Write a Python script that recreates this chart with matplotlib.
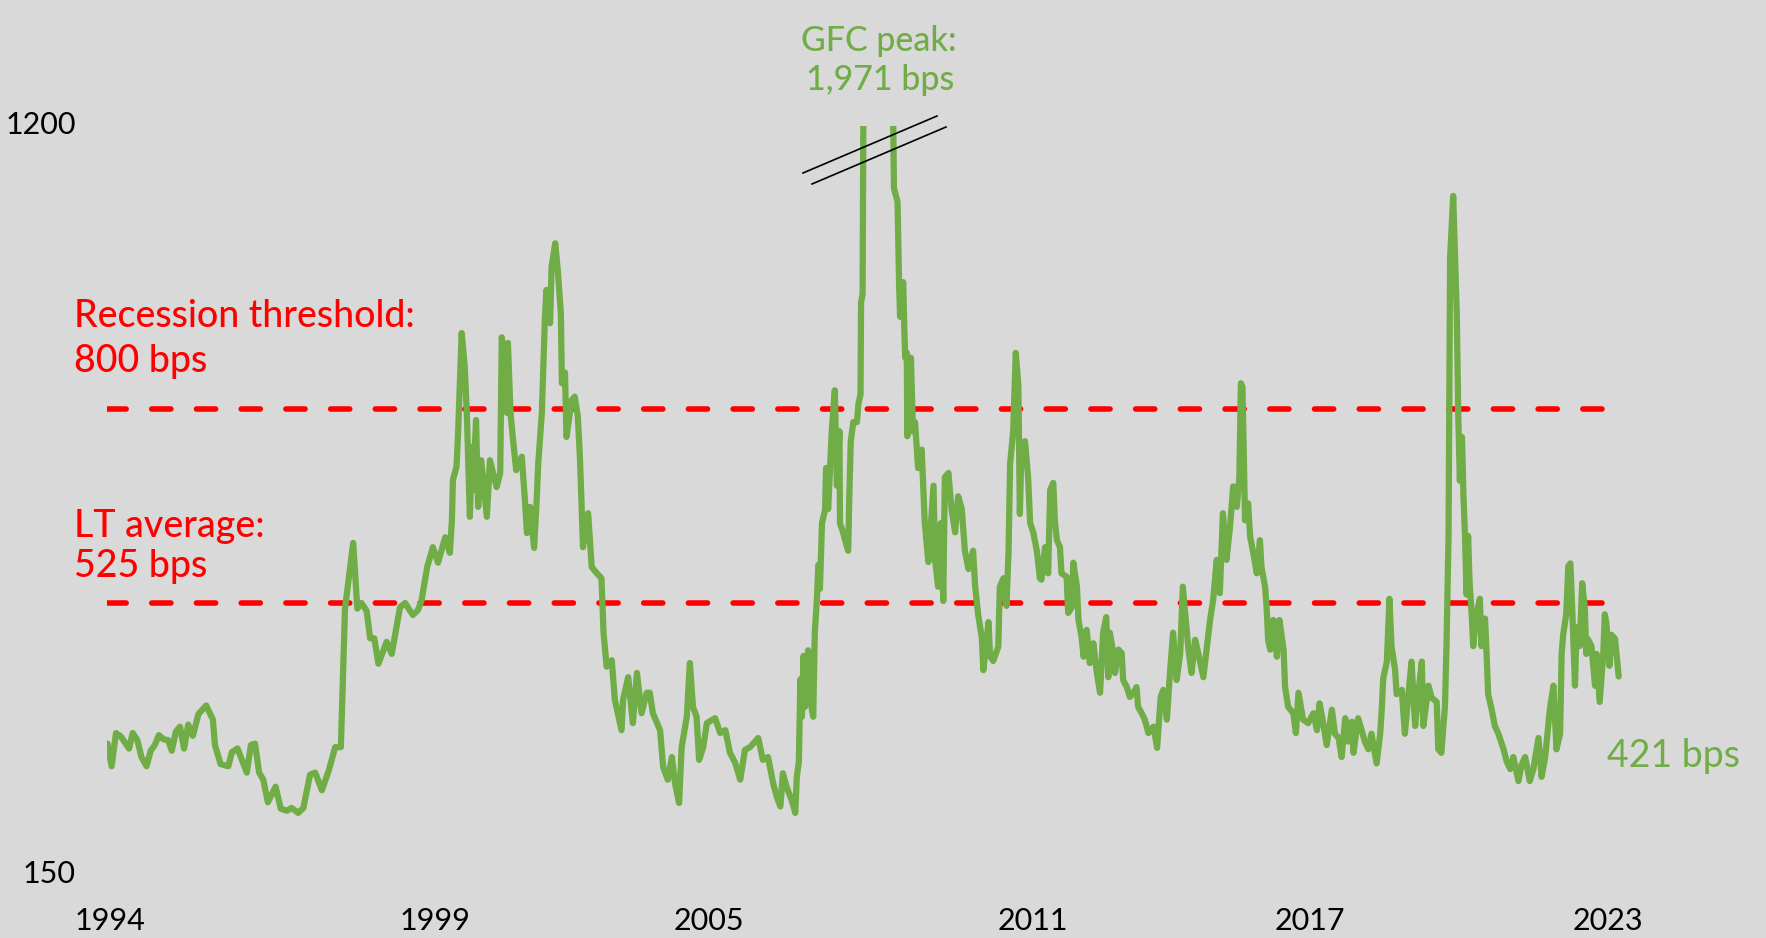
import matplotlib.pyplot as plt
from matplotlib.lines import Line2D

### data ###

# high yield spread (bps), x as fractional years
years = [
    1994.01, 1994.09, 1994.175, 1994.27, 1994.43, 1994.50, 1994.59, 1994.67, 1994.77, 1994.85,
    1994.93, 1995.01, 1995.10, 1995.19, 1995.26, 1995.34, 1995.42, 1995.50, 1995.58, 1995.67,
    1995.78, 1995.93, 1996.06, 1996.10, 1996.21, 1996.36, 1996.43, 1996.54, 1996.72, 1996.80,
    1996.88, 1996.96, 1997.04, 1997.13, 1997.28, 1997.38, 1997.50, 1997.59, 1997.72, 1997.82,
    1997.95, 1998.05, 1998.18, 1998.31, 1998.44, 1998.55, 1998.63, 1998.79, 1998.87, 1998.95,
    1999.05, 1999.12, 1999.20, 1999.28, 1999.44, 1999.54, 1999.70, 1999.80, 1999.95, 2000.05,
    2000.12, 2000.23, 2000.34, 2000.44, 2000.58, 2000.67, 2000.71, 2000.73, 2000.80, 2000.83,
    2000.86, 2000.88, 2000.90, 2000.96, 2001.00, 2001.06, 2001.10, 2001.12, 2001.18, 2001.22,
    2001.28, 2001.39, 2001.45, 2001.58, 2001.65, 2001.68, 2001.74, 2001.78, 2001.80, 2001.85,
    2001.90, 2001.96, 2002.07, 2002.13, 2002.17, 2002.23, 2002.31, 2002.36, 2002.39, 2002.46,
    2002.48, 2002.52, 2002.55, 2002.62, 2002.65, 2002.72, 2002.77, 2002.83, 2002.85, 2002.91,
    2002.94, 2003.04, 2003.10, 2003.16, 2003.20, 2003.23, 2003.26, 2003.36, 2003.43, 2003.53,
    2003.62, 2003.66, 2003.72, 2003.82, 2003.88, 2004.01, 2004.04, 2004.14, 2004.23, 2004.31,
    2004.40, 2004.50, 2004.56, 2004.62, 2004.76, 2004.82, 2004.91, 2004.99, 2005.05, 2005.13,
    2005.18, 2005.28, 2005.34, 2005.40, 2005.47, 2005.52, 2005.60, 2005.67, 2005.83, 2005.93,
    2006.03, 2006.12, 2006.22, 2006.32, 2006.41, 2006.51, 2006.67, 2006.76, 2006.86, 2006.96,
    2007.03, 2007.10, 2007.15, 2007.22, 2007.32, 2007.39, 2007.42, 2007.46, 2007.49, 2007.52,
    2007.55, 2007.58, 2007.64, 2007.68, 2007.74, 2007.77, 2007.81, 2007.84, 2007.87, 2007.91,
    2007.97, 2007.99, 2008.03, 2008.10, 2008.16, 2008.20, 2008.25, 2008.26, 2008.32, 2008.39,
    2008.42, 2008.44, 2008.47, 2008.52, 2008.59, 2008.62, 2008.66, 2008.67, 2008.70, 2008.72,
    2008.78, 2008.87, 2008.96, 2009.04, 2009.13, 2009.22, 2009.29, 2009.31, 2009.38, 2009.41,
    2009.43, 2009.49, 2009.51, 2009.53, 2009.56, 2009.57, 2009.64, 2009.68, 2009.72, 2009.78,
    2009.85, 2009.88, 2009.91, 2009.98, 2010.08, 2010.11, 2010.17, 2010.22, 2010.27, 2010.30,
    2010.37, 2010.43, 2010.50, 2010.56, 2010.63, 2010.69, 2010.76, 2010.85, 2010.89, 2010.95,
    2011.02, 2011.05, 2011.15, 2011.18, 2011.24, 2011.34, 2011.37, 2011.44, 2011.50, 2011.54,
    2011.57, 2011.63, 2011.68, 2011.73, 2011.76, 2011.79, 2011.86, 2011.92, 2011.96, 2012.02,
    2012.09, 2012.15, 2012.18, 2012.25, 2012.31, 2012.35, 2012.41, 2012.44, 2012.48, 2012.54,
    2012.57, 2012.67, 2012.70, 2012.77, 2012.80, 2012.87, 2012.90, 2012.96, 2013.00, 2013.06,
    2013.12, 2013.19, 2013.25, 2013.32, 2013.38, 2013.44, 2013.48, 2013.51, 2013.58, 2013.61,
    2013.68, 2013.74, 2013.77, 2013.84, 2013.90, 2013.97, 2014.03, 2014.06, 2014.13, 2014.19,
    2014.26, 2014.36, 2014.43, 2014.50, 2014.55, 2014.62, 2014.68, 2014.74, 2014.81, 2014.88,
    2014.93, 2014.97, 2015.04, 2015.10, 2015.17, 2015.23, 2015.33, 2015.40, 2015.46, 2015.52,
    2015.59, 2015.65, 2015.71, 2015.78, 2015.85, 2015.91, 2015.98, 2016.03, 2016.06, 2016.09,
    2016.12, 2016.14, 2016.20, 2016.24, 2016.30, 2016.37, 2016.43, 2016.46, 2016.53, 2016.56,
    2016.59, 2016.63, 2016.69, 2016.76, 2016.81, 2016.89, 2016.92, 2016.98, 2017.08, 2017.13,
    2017.18, 2017.27, 2017.37, 2017.47, 2017.54, 2017.59, 2017.63, 2017.73, 2017.83, 2017.89,
    2017.96, 2018.02, 2018.09, 2018.15, 2018.22, 2018.25, 2018.34, 2018.41, 2018.47, 2018.54,
    2018.60, 2018.70, 2018.77, 2018.80, 2018.83, 2018.90, 2018.95, 2018.99, 2019.06, 2019.09,
    2019.19, 2019.25, 2019.32, 2019.38, 2019.45, 2019.51, 2019.58, 2019.61, 2019.71, 2019.77,
    2019.87, 2019.90, 2019.96, 2020.03, 2020.06, 2020.10, 2020.13, 2020.19, 2020.26, 2020.29,
    2020.32, 2020.36, 2020.39, 2020.42, 2020.45, 2020.48, 2020.51, 2020.55, 2020.58, 2020.64,
    2020.71, 2020.74, 2020.81, 2020.84, 2020.87, 2020.94, 2021.00, 2021.07, 2021.17, 2021.23,
    2021.30, 2021.36, 2021.46, 2021.52, 2021.59, 2021.68, 2021.75, 2021.85, 2021.91, 2021.98,
    2022.01, 2022.07, 2022.14, 2022.20, 2022.27, 2022.30, 2022.33, 2022.39, 2022.43, 2022.47,
    2022.51, 2022.56, 2022.59, 2022.65, 2022.70, 2022.75, 2022.78, 2022.81, 2022.88, 2022.95,
    2022.98, 2023.04, 2023.11, 2023.14, 2023.17, 2023.23, 2023.27, 2023.34, 2023.41,
]

spread = [
    326, 294, 341, 336, 319, 341, 331, 307, 294, 316,
    324, 338, 332, 331, 316, 343, 350, 319, 353, 337,
    368, 380, 360, 324, 297, 294, 314, 319, 285, 324,
    326, 285, 275, 243, 265, 234, 231, 235, 228, 235,
    282, 285, 260, 287, 321, 321, 517, 610, 517, 525,
    514, 475, 475, 439, 470, 453, 519, 525, 508, 515,
    529, 576, 604, 582, 618, 596, 642, 699, 718, 765,
    826, 865, 907, 859, 794, 647, 746, 685, 784, 661,
    727, 647, 727, 689, 709, 901, 859, 794, 893, 794,
    756, 713, 732, 671, 624, 661, 603, 671, 723, 794,
    841, 930, 968, 921, 1001, 1034, 996, 935, 836, 851,
    760, 812, 817, 789, 732, 671, 604, 652, 576, 567,
    560, 483, 435, 444, 388, 345, 388, 420, 355, 426,
    369, 398, 398, 369, 345, 293, 275, 307, 270, 242,
    321, 364, 440, 378, 364, 303, 321, 355, 362, 341,
    345, 313, 299, 275, 317, 321, 334, 303, 307, 270,
    251, 237, 284, 265, 246, 228, 279, 300, 417, 364,
    450, 378, 458, 388, 364, 483, 529, 579, 545, 638,
    657, 716, 658, 768, 826, 691, 768, 638, 625, 606,
    599, 671, 754, 781, 781, 807, 820, 950, 962, 1300,
    1500, 1800, 1971, 1650, 1800, 1550, 1250, 1112, 1093, 977,
    930, 979, 917, 872, 879, 761, 872, 768, 781, 716,
    742, 691, 638, 583, 691, 586, 548, 638, 528, 703,
    709, 658, 625, 676, 658, 599, 573, 599, 548, 508,
    476, 430, 498, 450, 443, 463, 548, 560, 521, 599,
    722, 768, 879, 834, 651, 742, 754, 703, 638, 625,
    599, 560, 558, 604, 567, 685, 695, 642, 614, 604,
    567, 562, 511, 519, 582, 548, 501, 477, 449, 487,
    440, 468, 430, 398, 483, 505, 420, 483, 454, 426,
    459, 454, 416, 406, 392, 398, 406, 378, 369, 360,
    341, 350, 320, 392, 402, 360, 426, 483, 416, 454,
    548, 515, 459, 426, 473, 454, 420, 463, 501, 529,
    586, 539, 652, 586, 634, 690, 661, 703, 836, 831,
    723, 642, 666, 619, 596, 567, 614, 576, 548, 519,
    473, 459, 501, 449, 501, 459, 406, 378, 369, 341,
    398, 360, 355, 369, 345, 383, 368, 324, 374, 340,
    334, 307, 362, 329, 357, 313, 362, 345, 329, 318,
    340, 298, 340, 374, 419, 442, 531, 464, 430, 396,
    402, 340, 396, 442, 351, 396, 442, 351, 408, 391,
    385, 318, 313, 379, 464, 621, 1013, 1101, 934, 788,
    698, 760, 677, 620, 537, 620, 553, 509, 464, 509,
    531, 464, 503, 453, 396, 374, 351, 340, 318, 301,
    290, 307, 273, 296, 307, 273, 290, 334, 279, 307,
    329, 374, 408, 318, 340, 453, 480, 509, 577, 581,
    509, 408, 491, 464, 553, 519, 453, 474, 464, 408,
    453, 385, 453, 509, 497, 436, 480, 474, 421,
]

recession_level = 800
lt_average = 525
line_start, line_end = 1994.0, 2023.2

tick_years = [1994.06, 2000.38, 2005.71, 2012.02, 2017.40, 2023.20]
tick_labels = ['1994', '1999', '2005', '2011', '2017', '2023']

### style ###

bg = '#d9d9d9'
green = '#70ad47'
red = '#ff0000'
W, H = 1766, 938

plt.rcParams['font.family'] = ['Lato', 'DejaVu Sans']

fig = plt.figure(figsize=(W / 100, H / 100), dpi=100, facecolor=bg)
ax = fig.add_axes([107 / W, 70 / H, 1 - 107 / W, 742 / H])
ax.set_facecolor(bg)
ax.set_xlim(1994.0, 2026.276)
ax.set_ylim(150, 1200)
for s in ax.spines.values():
    s.set_visible(False)

# series
ax.plot(years, spread, color=green, lw=4.5, solid_joinstyle='round', solid_capstyle='round', zorder=3)

# threshold lines
for lvl in (recession_level, lt_average):
    ax.plot([line_start, line_end], [lvl, lvl], color=red, lw=4,
            dashes=(3.45, 4.6), dash_capstyle='round', zorder=2)

# ticks
ax.set_yticks([])
ax.set_xticks(tick_years)
ax.set_xticklabels(tick_labels)
ax.tick_params(axis='x', length=0, labelsize=22, colors='black', pad=28)


def px(x, y):
    return x / W, 1 - y / H


# y axis end labels
fig.text(*px(76, 134), '1200', fontsize=22, ha='right', va='baseline')
fig.text(*px(76, 883), '150', fontsize=22, ha='right', va='baseline')

# labels
fig.text(*px(74, 327), 'Recession threshold:', color=red, fontsize=27, fontweight='medium', va='baseline')
fig.text(*px(74, 372), '800 bps', color=red, fontsize=27, fontweight='medium', va='baseline')
fig.text(*px(74, 537), 'LT average:', color=red, fontsize=27, fontweight='medium', va='baseline')
fig.text(*px(74, 577), '525 bps', color=red, fontsize=27, fontweight='medium', va='baseline')

fig.text(*px(879, 51), 'GFC peak:', color=green, fontsize=24.5, fontweight='medium', ha='center', va='baseline')
fig.text(*px(880, 90), '1,971 bps', color=green, fontsize=24.5, fontweight='medium', ha='center', va='baseline')
fig.text(*px(1607, 767), f'{spread[-1]} bps', color=green, fontsize=27, va='baseline')

# axis break marks
for (x0, y0, x1, y1) in [(803, 173, 937, 116), (812, 184, 946, 127)]:
    a, b = px(x0, y0)
    c, d = px(x1, y1)
    fig.add_artist(Line2D([a, c], [b, d], transform=fig.transFigure, color='black', lw=1.2))

plt.savefig('out.png', dpi=100, facecolor=bg)
